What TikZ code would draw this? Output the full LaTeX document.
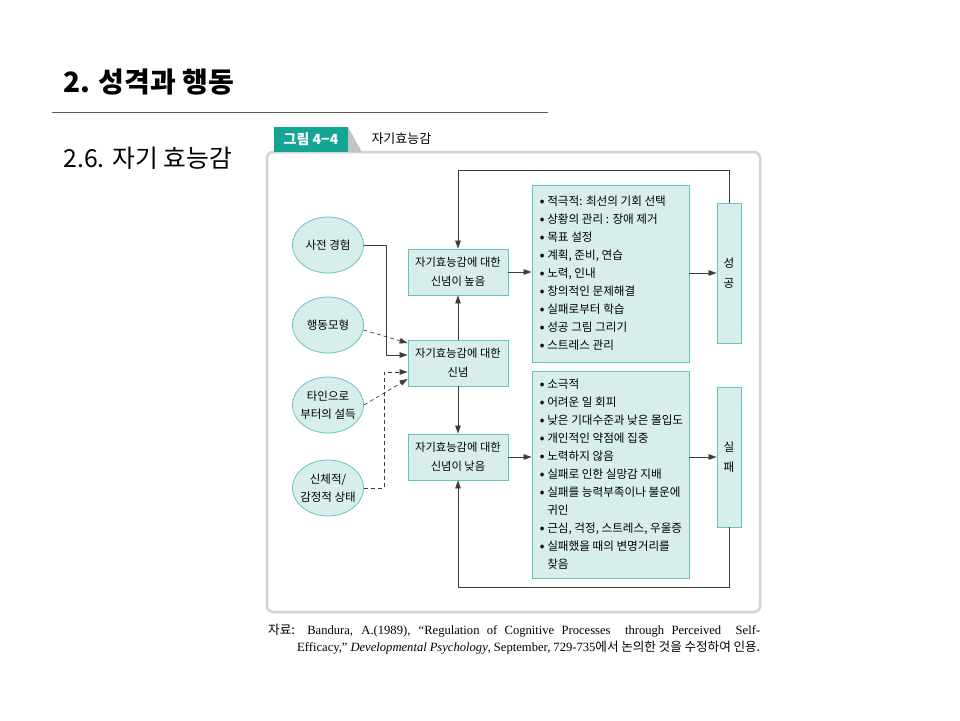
\documentclass[tikz,border=0pt]{standalone}
\usepackage{fontspec}
\setmainfont{Noto Sans CJK KR}
\newfontfamily\capfont{Liberation Serif}
\newfontfamily\krfont{Noto Sans CJK KR}
\usetikzlibrary{arrows.meta,shapes.geometric}

\definecolor{tealfill}{HTML}{D8EEED}
\definecolor{tealline}{HTML}{62C6BB}
\definecolor{tabteal}{HTML}{12A594}
\definecolor{tabgray}{HTML}{C4C4C4}
\definecolor{framegray}{HTML}{D3D3D3}
\definecolor{linegray}{HTML}{3C3C3C}

\newcommand\bul{\makebox[7.5pt][l]{\textbf{•}}}
\newcommand\cont{\hspace*{7.5pt}}

\begin{document}
\begin{tikzpicture}[x=1pt,y=-1pt,
  ellip/.style={ellipse, draw=tealline, fill=tealfill, line width=0.8pt,
    minimum width=71pt, minimum height=56pt, inner xsep=-8pt, inner ysep=0pt, align=center,
    font=\fontsize{11.5}{18}\selectfont},
  beliefbox/.style={rectangle, draw=tealline, fill=tealfill, line width=0.8pt,
    minimum width=100pt, minimum height=46pt, align=center,
    font=\fontsize{11.3}{19}\selectfont},
  listbox/.style={rectangle, draw=tealline, fill=tealfill, line width=0.8pt,
    minimum width=157pt},
  listtext/.style={anchor=west, align=left, inner sep=0pt,
    font=\fontsize{11.6}{18}\selectfont},
  outbox/.style={rectangle, draw=tealline, fill=tealfill, line width=0.8pt,
    minimum width=24pt, minimum height=140pt, align=center,
    font=\fontsize{11.6}{20}\selectfont},
  arr/.style={draw=linegray, line width=0.7pt, -{Triangle[length=8pt,width=5.5pt]}}]
\useasboundingbox (0,0) rectangle (960,720);

% slide heading
\node[anchor=west, font=\fontsize{28}{32}\selectfont\bfseries] (title) at (60,82) {2. 성격과 행동};
\draw[black!65, line width=0.8pt] (52,112) -- (548,112);
\node[anchor=west, font=\fontsize{24.8}{28}\selectfont] (subtitle) at (60,158) {2.6. 자기 효능감};

% figure frame and tab
\draw[framegray, line width=2.5pt, rounded corners=6pt] (267,152) rectangle (760,612);
\fill[tabgray] (348,127) -- (362,152) -- (348,152) -- cycle;
\node[fill=tabteal, text=white, minimum width=74pt, minimum height=25pt, inner sep=0pt,
  font=\fontsize{14}{16}\selectfont\bfseries] (tab) at (311,139.5) {그림 4−4};
\node[anchor=west, font=\fontsize{13}{15}\selectfont] (figtitle) at (368,139) {자기효능감};

% sources
\node[ellip] (prior) at (328,245) {사전 경험};
\node[ellip] (model) at (328,325) {행동모형};
\node[ellip] (pers) at (328,405) {타인으로\\부터의 설득};
\node[ellip] (body) at (328,488) {신체적/\\감정적 상태};

% beliefs
\node[beliefbox] (high) at (458,272) {자기효능감에 대한\\신념이 높음};
\node[beliefbox] (belief) at (458,363) {자기효능감에 대한\\신념};
\node[beliefbox] (low) at (458,457) {자기효능감에 대한\\신념이 낮음};

% lists
\node[listbox, minimum height=177pt] (hilist) at (610.5,273.5) {};
\node[listtext] (hitext) at ([xshift=8pt]hilist.west) {%
\bul 적극적: 최선의 기회 선택\\
\bul 상황의 관리 : 장애 제거\\
\bul 목표 설정\\
\bul 계획, 준비, 연습\\
\bul 노력, 인내\\
\bul 창의적인 문제해결\\
\bul 실패로부터 학습\\
\bul 성공 그림 그리기\\
\bul 스트레스 관리};
\node[listbox, minimum height=207pt] (lolist) at (610.5,474.5) {};
\node[listtext] (lotext) at ([xshift=8pt]lolist.west) {%
\bul 소극적\\
\bul 어려운 일 회피\\
\bul 낮은 기대수준과 낮은 몰입도\\
\bul 개인적인 약점에 집중\\
\bul 노력하지 않음\\
\bul 실패로 인한 실망감 지배\\
\bul 실패를 능력부족이나 불운에\\
\cont 귀인\\
\bul 근심, 걱정, 스트레스, 우울증\\
\bul 실패했을 때의 변명거리를\\
\cont 찾음};

% outcomes
\node[outbox] (succ) at (729,273) {성\\공};
\node[outbox] (fail) at (729,457) {실\\패};

% connectors
\draw[arr] (prior.east) -- ++(22,0) |- ([yshift=8pt]belief.west);
\draw[arr, dash pattern=on 4pt off 3pt] (model.-8) -- ([yshift=20pt]belief.west);
\draw[arr, dash pattern=on 4pt off 3pt] (pers.east) -- ([yshift=-16pt]belief.west);
\draw[arr, dash pattern=on 4pt off 3pt] (body.east) -- ++(20,0) |- ([yshift=-9pt]belief.west);
\draw[arr] (belief.north) -- (high.south);
\draw[arr] (belief.south) -- (low.north);
\draw[arr] (high.east) -- (high.east -| hilist.west);
\draw[arr] (low.east) -- (low.east -| lolist.west);
\draw[arr] (hilist.east |- succ.west) -- (succ.west);
\draw[arr] (lolist.east |- fail.west) -- (fail.west);
\draw[arr] (succ.north) -- ++(0,-32) -| (high.north);
\draw[arr] (fail.south) -- ++(0,60) -| (low.south);

% source note
\node[anchor=west, inner sep=0pt, font=\capfont\fontsize{12.6}{15}\selectfont] (note1) at (268,631)
  {\makebox[492pt][s]{{\krfont 자료:} Bandura, A.(1989), “Regulation of Cognitive Processes\ \ through Perceived\ \ Self-}};
\node[anchor=west, inner sep=0pt, font=\capfont\fontsize{12.6}{15}\selectfont] (note2) at (297,648)
  {\makebox[463pt][s]{Efficacy,” \textit{Developmental Psychology}, September, 729-735{\krfont 에서 논의한 것을 수정하여 인용.}}};
\end{tikzpicture}
\end{document}
